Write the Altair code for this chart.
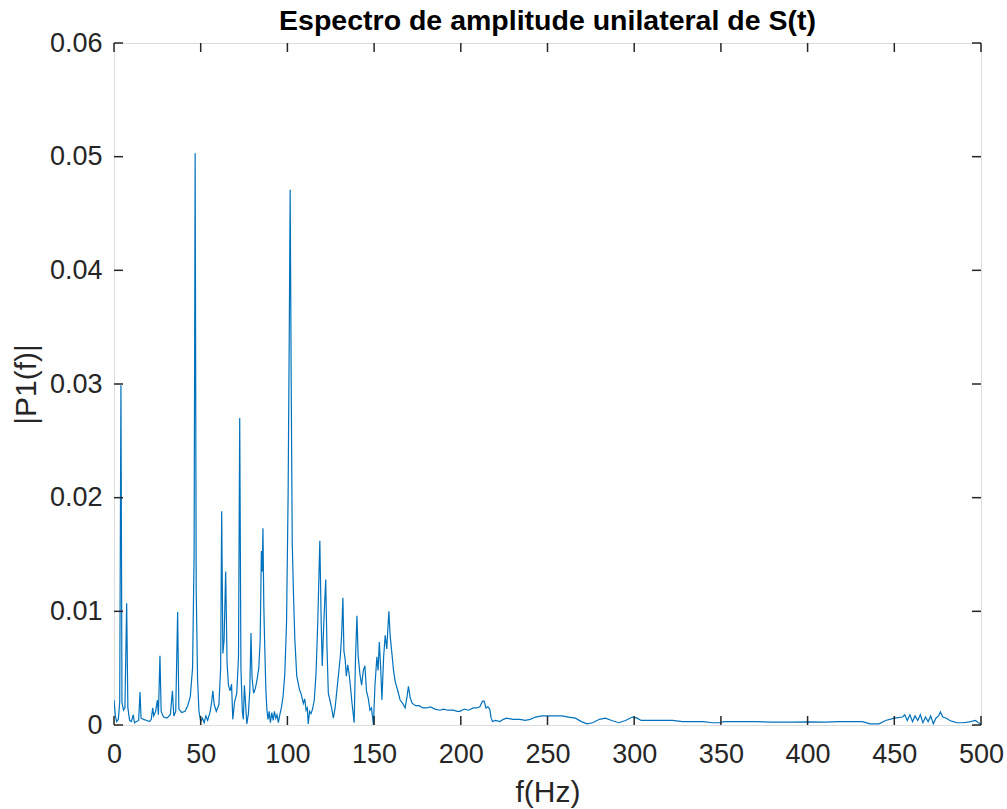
import altair as alt
import pandas as pd

freq = [0.0, 0.8, 1.5, 2.5, 3.3, 4.0, 4.6, 5.5, 6.3, 7.3, 8.0, 9.0, 10.0, 11.1, 11.8, 13.0, 14.2, 15.0, 15.6, 17.0,
        19.0, 20.5, 21.5, 22.3, 22.9, 24.0, 25.0, 25.6, 26.5, 27.2, 28.5, 30.5, 32.5, 33.7, 34.5, 35.6, 36.7, 37.4, 39.0, 41.0,
        42.5, 44.0, 45.3, 46.2, 46.8, 47.4, 48.2, 49.0, 50.0, 51.0, 52.0, 53.0, 54.0, 55.5, 56.3, 57.0, 57.8, 59.0, 60.5, 61.5,
        62.1, 62.8, 63.5, 64.4, 65.2, 66.0, 67.0, 67.8, 68.5, 69.5, 70.8, 71.8, 72.5, 73.2, 74.0, 74.6, 75.2, 76.6, 77.5, 78.3,
        79.0, 79.6, 80.5, 81.5, 82.5, 83.5, 84.3, 85.0, 85.5, 85.9, 86.4, 87.0, 87.6, 88.2, 88.8, 89.5, 90.2, 91.0, 91.8, 92.5,
        93.3, 94.0, 94.8, 95.5, 96.5, 97.5, 98.5, 99.5, 100.4, 101.1, 101.6, 102.2, 102.8, 103.5, 104.3, 105.4, 107.0, 108.0, 109.2, 110.0,
        110.8, 111.5, 112.0, 112.8, 113.6, 114.5, 115.5, 116.5, 117.5, 118.7, 119.5, 120.1, 121.0, 122.1, 122.8, 123.6, 124.5, 125.5, 126.5, 127.5,
        128.5, 129.5, 130.5, 131.3, 132.0, 132.6, 133.3, 134.0, 134.8, 135.5, 136.3, 137.2, 138.5, 139.3, 140.1, 140.8, 141.8, 142.8, 143.8, 144.7,
        145.6, 146.7, 147.6, 148.5, 149.6, 150.5, 151.6, 152.3, 153.0, 153.8, 154.5, 155.5, 156.4, 157.3, 158.5, 159.3, 160.2, 161.2, 162.2, 163.5,
        165.0, 166.5, 167.9, 168.9, 169.8, 170.8, 172.0, 174.0, 176.0, 178.0, 180.3, 182.5, 185.0, 188.0, 190.0, 192.5, 195.7, 198.0, 199.5, 202.0,
        204.5, 207.2, 209.0, 211.0, 212.5, 213.5, 214.5, 215.6, 216.7, 217.5, 218.3, 220.0, 222.6, 224.5, 226.4, 230.0, 234.0, 237.2, 240.0, 243.0,
        246.8, 250.0, 254.0, 258.4, 262.0, 266.1, 269.5, 272.8, 276.0, 280.0, 283.4, 287.0, 291.1, 295.0, 299.0, 301.7, 304.0, 308.4, 315.0, 322.0,
        328.0, 335.3, 340.0, 345.0, 348.8, 352.0, 357.0, 362.3, 370.0, 380.0, 390.0, 400.8, 410.0, 418.0, 425.0, 431.6, 436.0, 441.2, 445.0, 450.0,
        454.7, 456.0, 457.5, 459.0, 460.5, 462.0, 463.5, 465.0, 466.5, 468.0, 469.5, 471.0, 472.5, 474.0, 475.5, 476.6, 478.0, 480.0, 482.0, 484.0,
        486.2, 490.0, 494.0, 496.8, 498.5, 500.0]

amp = [0.0022, 0.0008, 0.0003, 0.0005, 0.002, 0.0299, 0.002, 0.0013, 0.0015, 0.0107, 0.0015, 0.0004, 0.0003, 0.0009, 0.0002, 0.0003, 0.0004, 0.0029, 0.0006, 0.0005,
       0.0004, 0.0003, 0.0005, 0.0015, 0.0008, 0.0012, 0.0022, 0.0009, 0.0061, 0.0012, 0.0007, 0.0006, 0.0009, 0.003, 0.0008, 0.0012, 0.00995, 0.0014, 0.0011, 0.0012,
       0.0017, 0.0025, 0.005, 0.015, 0.0503, 0.012, 0.004, 0.0012, 0.0003, 0.0006, 0.0002, 0.0008, 0.0004, 0.0012, 0.002, 0.003, 0.0018, 0.0012, 0.0018, 0.005,
       0.0188, 0.0063, 0.0075, 0.0135, 0.0055, 0.0035, 0.003, 0.0036, 0.0005, 0.002, 0.0028, 0.006, 0.027, 0.005, 0.0012, 0.0005, 0.0035, 0.0001, 0.001, 0.003,
       0.0081, 0.0042, 0.0028, 0.0032, 0.004, 0.005, 0.0075, 0.0153, 0.0135, 0.0173, 0.0104, 0.0065, 0.003, 0.0013, 0.0005, 0.0012, 0.0002, 0.0011, 0.0004, 0.0012,
       0.0006, 0.0009, 0.0002, 0.0008, 0.0015, 0.0025, 0.0045, 0.009, 0.02, 0.035, 0.0471, 0.03, 0.016, 0.0116, 0.0075, 0.0043, 0.0031, 0.0027, 0.0019, 0.0023,
       0.0013, 0.0015, 0.0001, 0.0012, 0.001, 0.0014, 0.0022, 0.0045, 0.009, 0.0162, 0.009, 0.0052, 0.009, 0.0128, 0.007, 0.0028, 0.0022, 0.0015, 0.0006, 0.0015,
       0.003, 0.0045, 0.006, 0.008, 0.0112, 0.0065, 0.0058, 0.0043, 0.0053, 0.0046, 0.0035, 0.002, 0.0002, 0.006, 0.0096, 0.0061, 0.0045, 0.0035, 0.0048, 0.0052,
       0.003, 0.0023, 0.0013, 0.0015, 0.0, 0.0035, 0.006, 0.0048, 0.0073, 0.005, 0.0022, 0.006, 0.0079, 0.0067, 0.01, 0.0078, 0.0064, 0.0048, 0.0038, 0.0031,
       0.0022, 0.0019, 0.0015, 0.0024, 0.0034, 0.0024, 0.0019, 0.0017, 0.0017, 0.0015, 0.0015, 0.0016, 0.0014, 0.0013, 0.0014, 0.0013, 0.0013, 0.0012, 0.0012, 0.0014,
       0.0013, 0.0015, 0.0015, 0.0016, 0.0021, 0.0021, 0.0015, 0.0016, 0.0014, 0.0006, 0.0003, 0.0004, 0.0003, 0.0005, 0.0006, 0.0005, 0.0005, 0.0004, 0.0005, 0.0007,
       0.0008, 0.0008, 0.0008, 0.0008, 0.0007, 0.0006, 0.0003, 0.0001, 0.0002, 0.0005, 0.0006, 0.0004, 0.0002, 0.0004, 0.0007, 0.0006, 0.0004, 0.0004, 0.0004, 0.0004,
       0.0003, 0.0003, 0.0003, 0.0002, 0.0002, 0.0003, 0.0003, 0.0003, 0.0003, 0.00025, 0.00025, 0.00027, 0.00025, 0.0003, 0.0003, 0.0003, 0.0001, 0.0001, 0.0004, 0.0006,
       0.0007, 0.0009, 0.0004, 0.0009, 0.0003, 0.0008, 0.0004, 0.0009, 0.0002, 0.0007, 0.0003, 0.0008, 0.0001, 0.0006, 0.0008, 0.00115, 0.0007, 0.0006, 0.0004, 0.0003,
       0.0002, 0.0002, 0.0003, 0.0004, 0.0002, 0.0001]

x_ticks = [0, 50, 100, 150, 200, 250, 300, 350, 400, 450, 500]
y_ticks = [0, 0.01, 0.02, 0.03, 0.04, 0.05, 0.06]

W, H = 867, 682
AX = "#262626"
FONT = "Liberation Sans"

df = pd.DataFrame({"f": freq, "p": amp})
xt = pd.DataFrame({"f": x_ticks})
yt = pd.DataFrame({"p": y_ticks})

xscale = alt.Scale(domain=[0, 500], nice=False, zero=False)
yscale = alt.Scale(domain=[0, 0.06], nice=False)

line = alt.Chart(df).mark_line(color="#0072BD", strokeWidth=1.2, clip=True).encode(
    x=alt.X("f:Q", scale=xscale, title="f(Hz)",
            axis=alt.Axis(values=x_ticks, ticks=False, tickSize=0, domain=False, grid=False,
                          labelFlush=False, labelOverlap=False,
                          labelFont=FONT, labelFontSize=27, labelColor=AX, labelPadding=16,
                          titleFont=FONT, titleFontSize=30, titleColor=AX, titleFontWeight="normal",
                          titlePadding=10)),
    y=alt.Y("p:Q", scale=yscale, title="|P1(f)|",
            axis=alt.Axis(values=y_ticks, format=".2~f", ticks=False, tickSize=0, domain=False, grid=False,
                          labelFlush=False, labelOverlap=False,
                          labelFont=FONT, labelFontSize=27, labelColor=AX, labelPadding=12,
                          titleFont=FONT, titleFontSize=30, titleColor=AX, titleFontWeight="normal",
                          titlePadding=8)),
)

tick_style = dict(color=AX, strokeWidth=1.5)
xb = alt.Chart(xt).mark_rule(**tick_style).encode(x="f:Q", y=alt.value(H), y2=alt.value(H - 9))
xtop = alt.Chart(xt).mark_rule(**tick_style).encode(x="f:Q", y=alt.value(0), y2=alt.value(9))
yl = alt.Chart(yt).mark_rule(**tick_style).encode(y="p:Q", x=alt.value(0), x2=alt.value(9))
yr = alt.Chart(yt).mark_rule(**tick_style).encode(y="p:Q", x=alt.value(W - 9), x2=alt.value(W))

chart = alt.layer(line, xb, xtop, yl, yr).properties(
    width=W, height=H,
    title=alt.Title("Espectro de amplitude unilateral de S(t)", font=FONT, fontSize=28.5,
                    fontWeight="bold", color="#000000", anchor="middle", offset=-6),
    autosize=alt.AutoSizeParams(type="none"),
    padding={"left": 114, "top": 43, "right": 26, "bottom": 84},
).configure_view(stroke=AX, strokeWidth=1.5).configure(background="white")

chart.save("out.html", embed_options={"renderer": "svg", "actions": False})
